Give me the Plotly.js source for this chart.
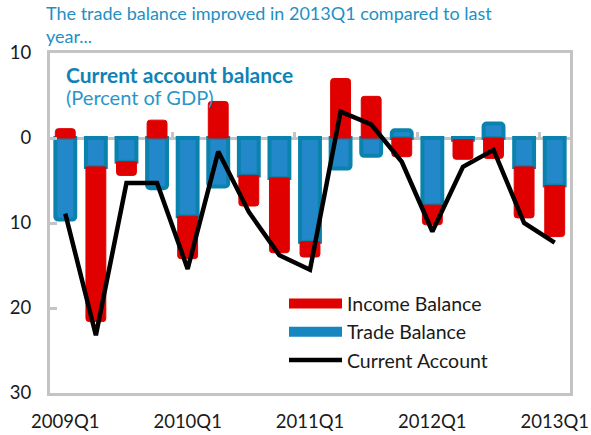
<!DOCTYPE html>
<html><head><meta charset="utf-8">
<script src="https://cdn.plot.ly/plotly-3.0.1.min.js"></script>
<style>html,body{margin:0;padding:0;background:#fff}#chart{width:591px;height:435px}</style>
</head><body><div id="chart"></div>
<script>
const quarters = ['2009Q1','2009Q2','2009Q3','2009Q4','2010Q1','2010Q2','2010Q3','2010Q4','2011Q1','2011Q2','2011Q3','2011Q4','2012Q1','2012Q2','2012Q3','2012Q4','2013Q1'];
const tradeBalance = [-9.6,-3.4,-2.8,-5.9,-9.2,-5.7,-4.4,-4.7,-12.2,-3.6,-2.1,0.9,-7.9,-0.2,1.7,-3.4,-5.6];
const incomeBalance = [1.1,-18.2,-1.6,2.1,-5.0,4.3,-3.6,-8.8,-1.8,7.0,4.9,-2.2,-2.3,-2.3,-2.4,-6.0,-6.0];
const currentAccount = [-8.9,-23.2,-5.3,-5.3,-15.4,-1.6,-8.7,-13.8,-15.5,3.1,1.6,-2.8,-11.0,-3.4,-1.4,-10.0,-12.3];
const xTickLabels = ['2009Q1','2010Q1','2011Q1','2012Q1','2013Q1'];
const yTickVals = [10,0,-10,-20,-30];
const yTickText = ['10','0','10','20','30'];
const boundaryTicks = [3.5,7.5,11.5,15.5];

const FONT = 'Lato, "Open Sans", sans-serif';
const GRAY = '#c4c4c4';
const RED = '#e10000';
const BLUE_FILL = '#2388c9';
const BLUE_EDGE = '#0a82ae';

const traces = [
  {type:'bar', name:'Trade Balance', x:quarters, y:tradeBalance, showlegend:false,
   marker:{color:BLUE_FILL, line:{color:BLUE_EDGE, width:4}, cornerradius:3}},
  {type:'bar', name:'Income Balance', x:quarters, y:incomeBalance, showlegend:false,
   marker:{color:RED, line:{color:RED, width:1}, cornerradius:3}},
  {type:'scatter', mode:'lines', name:'Current Account', x:quarters, y:currentAccount,
   line:{color:'#000', width:4.5}, legendrank:3},
  {type:'scatter', mode:'lines', name:'Income Balance', x:[quarters[0]], y:[null],
   line:{color:RED, width:15}, legendrank:1},
  {type:'scatter', mode:'lines', name:'Trade Balance', x:[quarters[0]], y:[null],
   line:{color:'#1686c0', width:15}, legendrank:2},
  {type:'scatter', mode:'lines', x:[0,16], y:[null,null], xaxis:'x2', showlegend:false, hoverinfo:'skip'}
];

const layout = {
  width:591, height:435,
  margin:{l:50, r:21, t:53, b:42},
  barmode:'relative', bargap:0.35,
  paper_bgcolor:'#fff', plot_bgcolor:'#fff',
  font:{family:FONT, size:18, color:'#1a1a1a'},
  showlegend:true,
  legend:{x:0.45, y:0.32, xanchor:'left', yanchor:'top', bgcolor:'rgba(0,0,0,0)',
          font:{family:FONT, size:19.5, color:'#1a1a1a'}, itemwidth:53, tracegroupgap:0},
  xaxis:{type:'category', tickvals:xTickLabels, ticktext:xTickLabels, ticks:'', showgrid:false,
         showline:true, linecolor:GRAY, linewidth:3, mirror:true, zeroline:false,
         ticklabelstandoff:10, tickfont:{family:FONT, size:18.5, color:'#1a1a1a'}},
  xaxis2:{overlaying:'x', anchor:'free', position:0.75, range:[-0.5,16.5], tickvals:boundaryTicks,
          ticks:'inside', ticklen:6, tickwidth:3, tickcolor:GRAY, showticklabels:false,
          showgrid:false, showline:false, zeroline:false},
  yaxis:{range:[-30,10], tickvals:yTickVals, ticktext:yTickText, ticks:'inside', ticklen:7,
         tickwidth:3, tickcolor:GRAY, showgrid:false, showline:true, linecolor:GRAY, linewidth:3,
         mirror:true, zeroline:true, zerolinecolor:GRAY, zerolinewidth:3,
         ticklabelstandoff:12, tickfont:{family:FONT, size:18.5, color:'#1a1a1a'}},
  annotations:[
    {xref:'paper', yref:'paper', x:-0.012, y:1.0, xanchor:'left', yanchor:'bottom', showarrow:false, align:'left',
     yshift:4, text:'The trade balance improved in 2013Q1 compared to last<br>year...',
     font:{family:FONT, size:18, color:'#1e90c4'}},
    {xref:'paper', yref:'paper', x:0.026, y:0.938, xanchor:'left', yanchor:'middle', showarrow:false,
     text:'<b>Current account balance</b>', font:{family:FONT, size:21, color:'#0f82b7'}},
    {xref:'paper', yref:'paper', x:0.026, y:0.871, xanchor:'left', yanchor:'middle', showarrow:false,
     text:'(Percent of GDP)', font:{family:FONT, size:20, color:'#2a95ca'}}
  ]
};
Plotly.newPlot('chart', traces, layout, {staticPlot:true, displayModeBar:false});
</script></body></html>
